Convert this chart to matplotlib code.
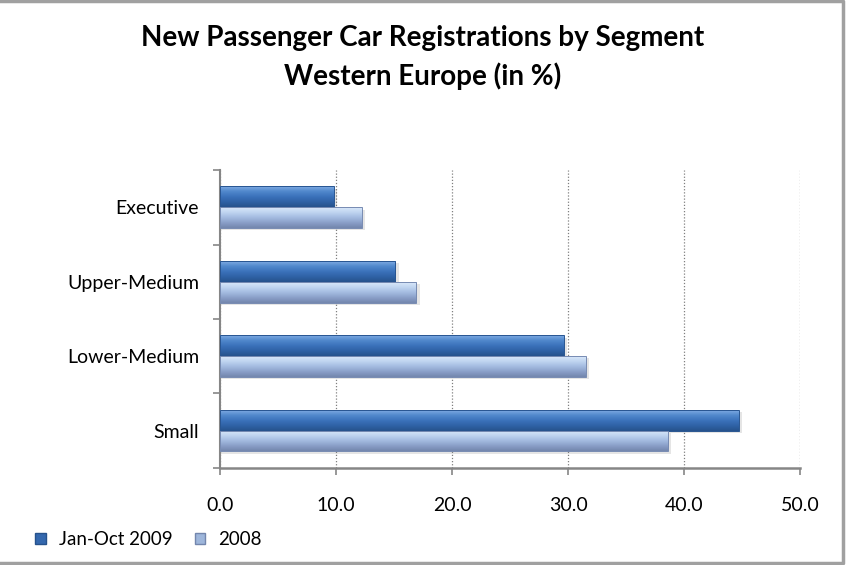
import numpy as np
import matplotlib
matplotlib.use('Agg')
import matplotlib.pyplot as plt
from matplotlib.colors import LinearSegmentedColormap
from matplotlib.patches import Patch, Rectangle
from matplotlib.lines import Line2D

plt.rcParams['font.family'] = ['Lato', 'DejaVu Sans']

segments = ['Small', 'Lower-Medium', 'Upper-Medium', 'Executive']
jan_oct_2009 = [44.7, 29.6, 15.1, 9.8]
year_2008 = [38.6, 31.5, 16.9, 12.2]
series_names = ['Jan-Oct 2009', '2008']
xticks = [0, 10, 20, 30, 40, 50]

# bottom -> top gradients
cm_2009 = LinearSegmentedColormap.from_list('c09', ['#26528c', '#2f62a6', '#3b72bb', '#5088cc', '#7eaae2'])
cm_2008 = LinearSegmentedColormap.from_list('c08', ['#7386ad', '#8a9fc8', '#a3bbe0', '#bfd4f0', '#d9e8fa'])

fig = plt.figure(figsize=(8.46, 5.65), dpi=100)
ax = fig.add_axes([0.26, 0.172, 0.686, 0.527])

h = 0.28
y = np.arange(len(segments))
grad = np.linspace(0, 1, 64).reshape(-1, 1)

for vals, off, cm in [(jan_oct_2009, h / 2, cm_2009), (year_2008, -h / 2, cm_2008)]:
    bars = ax.barh(y + off, vals, height=h, facecolor='none', edgecolor='none', zorder=3)
    for b in bars:
        x0, y0 = b.get_x(), b.get_y()
        w, hh = b.get_width(), b.get_height()
        # soft shadow
        ax.add_patch(Rectangle((x0, y0 - 0.03), w + 0.3, hh, facecolor='#000000', alpha=0.10,
                               edgecolor='none', zorder=2))
        im = ax.imshow(grad, extent=[x0, x0 + w, y0, y0 + hh], origin='lower', aspect='auto',
                       cmap=cm, zorder=3, interpolation='bicubic')
        im.set_clip_path(b)
        ax.add_patch(Rectangle((x0, y0), w, hh, facecolor='none', edgecolor=cm(0.05),
                               linewidth=0.7, zorder=4))

ax.set_xlim(0, 50)
ax.set_ylim(-0.5, 3.5)
ax.set_xticks(xticks)
ax.set_xticklabels(['%.1f' % v for v in xticks], fontsize=14)
ax.set_yticks(y)
ax.set_yticklabels(segments, fontsize=14)
ax.set_yticks(np.arange(-0.5, 4.0, 1.0), minor=True)
ax.tick_params(axis='y', which='major', length=0, pad=15)
ax.tick_params(axis='y', which='minor', length=5, color='#868686', width=1.2)
ax.tick_params(axis='x', which='major', length=5, color='#868686', width=1.2, pad=16)

ax.grid(axis='x', linestyle=(0, (1, 1.5)), color='#808080', linewidth=0.9, zorder=1)
ax.set_axisbelow(True)
for s in ['top', 'right']:
    ax.spines[s].set_visible(False)
ax.spines['left'].set_color('#868686')
ax.spines['left'].set_linewidth(1.5)
ax.spines['bottom'].set_color('#868686')
ax.spines['bottom'].set_linewidth(1.8)

fig.text(0.5, 0.932, 'New Passenger Car Registrations by Segment', ha='center', va='center',
         fontsize=20, fontweight='bold')
fig.text(0.5, 0.865, 'Western Europe (in %)', ha='center', va='center',
         fontsize=20, fontweight='bold')

handles = [Patch(facecolor=cm_2009(0.35), edgecolor=cm_2009(0.0)),
           Patch(facecolor=cm_2008(0.45), edgecolor=cm_2008(0.0))]
fig.legend(handles, series_names, loc='lower left', bbox_to_anchor=(0.022, 0.0), ncol=2,
           frameon=False, fontsize=13.5, handlelength=0.55, handleheight=0.55, handletextpad=0.7,
           columnspacing=1.2)

# chart frame (top, right, bottom)
fig.add_artist(Line2D([0, 0.997, 0.997, 0], [0.998, 0.998, 0.004, 0.004], transform=fig.transFigure,
                      color='#a0a0a0', linewidth=2.5))

fig.savefig('out.png', dpi=100)
